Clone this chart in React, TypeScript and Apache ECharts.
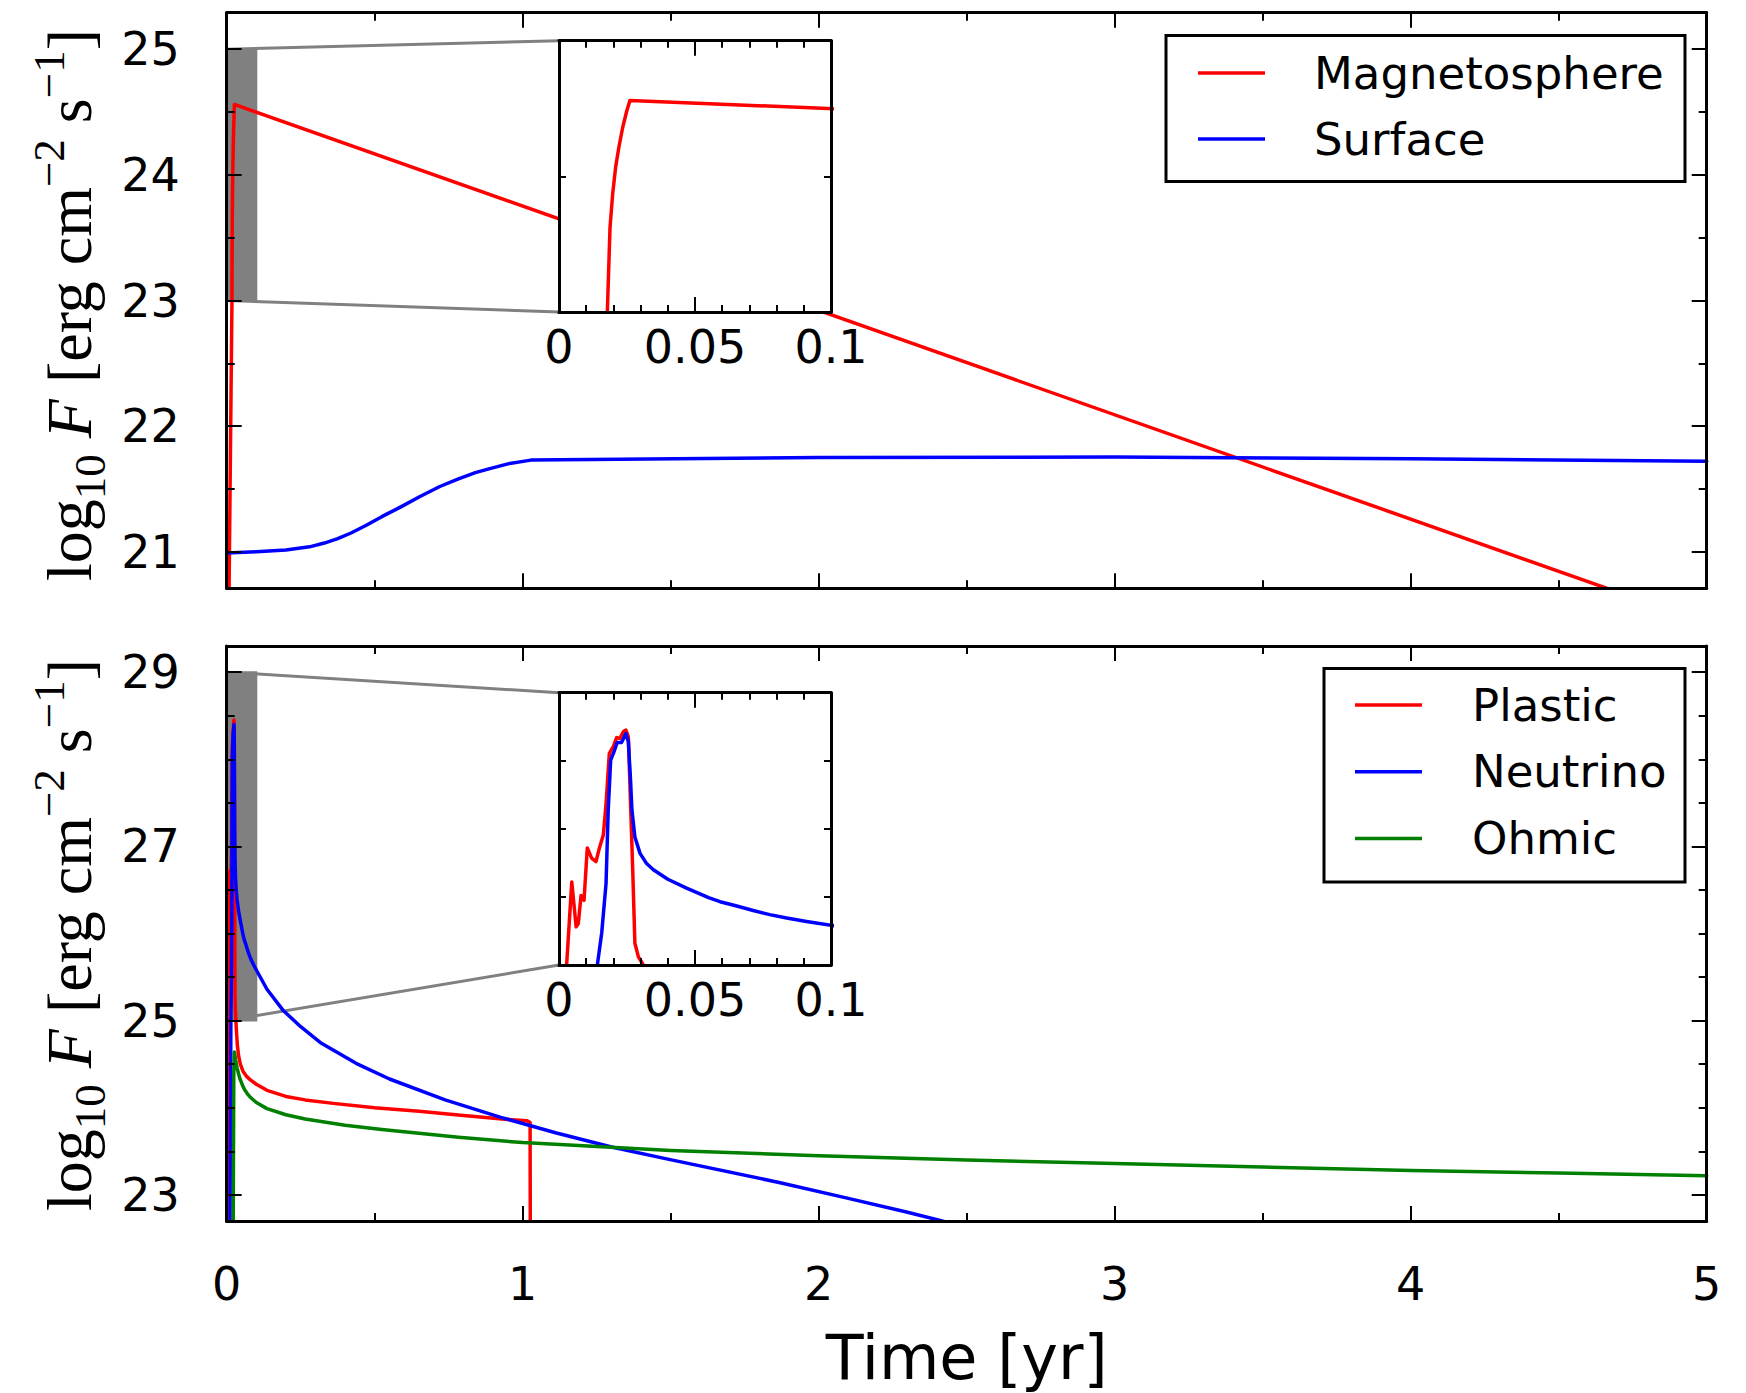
import React, { useEffect, useRef } from 'react';
import * as echarts from 'echarts';

// ---------- Data ----------
// Top panel: Magnetosphere (log10 F) vs time [yr]
const magTime = [0.005, 0.01777, 0.01875, 0.01973, 0.02083, 0.02206, 0.02341, 0.02488, 0.0261, 5.0];
const magVal = [20.0, 23.0, 23.62, 23.87, 24.07, 24.22, 24.36, 24.48, 24.56, 20.43];

// Top panel: Surface
const surfTime = [0, 0.1, 0.2, 0.28, 0.33, 0.375, 0.42, 0.47, 0.524, 0.59, 0.653, 0.72, 0.783, 0.84, 0.886, 0.95,
  1.028, 2.0, 3.0, 4.0, 5.0];
const surfVal = [20.99, 21.0, 21.015, 21.04, 21.07, 21.105, 21.15, 21.21, 21.28, 21.36, 21.44, 21.52, 21.58, 21.63,
  21.66, 21.7, 21.73, 21.75, 21.755, 21.74, 21.72];

// Bottom panel: Plastic
const plasticTime = [0.0, 0.0028, 0.0047, 0.0063, 0.0071, 0.0081, 0.0092, 0.0104, 0.012, 0.0136, 0.0148, 0.0163,
  0.0173, 0.0185, 0.02, 0.0212, 0.0224, 0.0237, 0.0246, 0.0255, 0.0261, 0.0271, 0.0279, 0.0292, 0.031, 0.033,
  0.036, 0.04, 0.046, 0.055, 0.067, 0.08, 0.1, 0.136, 0.2, 0.265, 0.36, 0.5, 0.65, 0.8, 0.93, 1.015, 1.025, 1.027];
const plasticVal = [20.0, 25.0, 26.22, 25.56, 25.61, 26.02, 25.95, 26.72, 26.57, 26.52, 26.71, 26.91,
  27.37, 28.11, 28.21, 28.34, 28.33, 28.43, 28.45, 28.35, 27.62, 26.4, 25.32, 25.12, 25.0, 24.88,
  24.72, 24.6, 24.5, 24.42, 24.36, 24.32, 24.27, 24.2, 24.13, 24.09, 24.05, 24.0, 23.96, 23.91, 23.87, 23.85,
  23.83, 20.0];

// Bottom panel: Neutrino
const neutrinoTime = [0.008, 0.0141, 0.0157, 0.0173, 0.0181, 0.019, 0.0202, 0.0214, 0.023, 0.0246, 0.0255,
  0.0263, 0.0268, 0.0279, 0.0298, 0.0322, 0.0347, 0.04, 0.0469, 0.055, 0.0592, 0.065, 0.0714, 0.0775, 0.0837,
  0.091, 0.102, 0.136, 0.19, 0.25, 0.32, 0.437, 0.55, 0.738, 0.926, 1.114, 1.3, 1.49, 1.87, 2.1, 2.3, 2.43, 2.6];
const neutrinoVal = [20.0, 25.0, 25.47, 26.2, 27.28, 28.01, 28.13, 28.27, 28.27, 28.4, 28.28,
  27.72, 27.28, 26.88, 26.64, 26.49, 26.4, 26.26, 26.13, 25.99, 25.93, 25.87, 25.8, 25.74, 25.69,
  25.64, 25.57, 25.36, 25.12, 24.93, 24.74, 24.51, 24.33, 24.09, 23.89, 23.71, 23.55, 23.41, 23.14, 22.96,
  22.8, 22.69, 22.55];

// Bottom panel: Ohmic
const ohmicTime = [0.02, 0.022, 0.024, 0.026, 0.03, 0.035, 0.04, 0.045, 0.052, 0.06, 0.07, 0.08, 0.1, 0.136, 0.2,
  0.265, 0.4, 0.524, 0.783, 1.0, 1.22, 1.5, 2.0, 2.5, 3.0, 3.5, 4.0, 4.5, 5.0];
const ohmicVal = [18.0, 22.7, 24.4, 24.64, 24.55, 24.46, 24.39, 24.33, 24.27, 24.21, 24.16, 24.12, 24.06, 23.99,
  23.92, 23.87, 23.8, 23.75, 23.66, 23.6, 23.56, 23.51, 23.45, 23.4, 23.36, 23.32, 23.28, 23.25, 23.22];

// Axis ranges and ticks
const timeRange = [0, 5];
const topYRange = [20.71, 25.29];
const bottomYRange = [22.7, 29.3];
const topYTicks = [21, 22, 23, 24, 25];
const topYMinor = [21.5, 22.5, 23.5, 24.5];
const bottomYTicks = [23, 25, 27, 29];
const bottomYMinor = [23.5, 24, 24.5, 25.5, 26, 26.5, 27.5, 28, 28.5];
const insetXRange = [0, 0.1];
const topInsetYRange = [23, 25];
const bottomInsetYRange = [25, 29];
// zoom windows [x0, x1, y0, y1]
const zoomTop = [0, 0.1, 23, 25];
const zoomBottom = [0, 0.1, 25, 29];

const topLegend = ['Magnetosphere', 'Surface'];
const bottomLegend = ['Plastic', 'Neutrino', 'Ohmic'];

// ---------- Layout ----------
const MAIN_L = 226.7;
const MAIN_W = 1480;
const TOP_T = 12.7;
const TOP_H = 575.6;
const BOT_T = 646;
const BOT_H = 575;
const INSET_L = 559;
const INSET_W = 272;
const TI_T = 40.7;
const TI_H = 271.3;
const BI_T = 692.7;
const BI_H = 272.3;

const RED = '#ff0000';
const BLUE = '#0000ff';
const GREEN = '#008000';
const GRAY = '#808080';
const SANS = 'DejaVu Sans';
const SERIF = 'Liberation Serif';
const TICK_FONT = 46;
const LEGEND_FONT = 45;
const LW = 3.5;

function pairs(t: number[], v: number[]) {
  return t.map((x, i) => [x, v[i]]);
}

function xAx(gridIndex: number, position: string, range: number[], interval: number, minorSplit: number,
  showLabel: boolean, majorLen: number, minorLen: number, z: number, labelMargin = 42) {
  return {
    type: 'value', gridIndex, position, min: range[0], max: range[1], interval, z,
    axisLine: { show: true, onZero: false, lineStyle: { color: '#000', width: 3 } },
    axisTick: { show: true, inside: true, length: majorLen, lineStyle: { color: '#000', width: 2 } },
    minorTick: { show: true, splitNumber: minorSplit, length: minorLen, lineStyle: { color: '#000', width: 2 } },
    splitLine: { show: false },
    minorSplitLine: { show: false },
    axisLabel: { show: showLabel, fontSize: TICK_FONT, fontFamily: SANS, color: '#000', margin: labelMargin },
  };
}

function yMajor(gridIndex: number, position: string, range: number[], ticks: number[], showLabel: boolean, z: number) {
  return {
    type: 'value', gridIndex, position, min: range[0], max: range[1], z,
    axisLine: { show: true, onZero: false, lineStyle: { color: '#000', width: 3 } },
    axisTick: { show: true, inside: true, length: 15, customValues: ticks, lineStyle: { color: '#000', width: 2 } },
    splitLine: { show: false },
    axisLabel: { show: showLabel, customValues: ticks, fontSize: TICK_FONT, fontFamily: SANS, color: '#000', margin: 47 },
  };
}

function yMinor(gridIndex: number, position: string, range: number[], ticks: number[], z: number) {
  return {
    type: 'value', gridIndex, position, min: range[0], max: range[1], z,
    axisLine: { show: false, onZero: false },
    axisTick: { show: true, inside: true, length: 8, customValues: ticks, lineStyle: { color: '#000', width: 2 } },
    splitLine: { show: false },
    axisLabel: { show: false },
  };
}

function yInset(gridIndex: number, position: string, range: number[], z: number) {
  return {
    type: 'value', gridIndex, position, min: range[0], max: range[1], interval: 1, z,
    axisLine: { show: true, onZero: false, lineStyle: { color: '#000', width: 3 } },
    axisTick: { show: true, inside: true, length: 7, lineStyle: { color: '#000', width: 2 } },
    splitLine: { show: false },
    axisLabel: { show: false },
  };
}

function lineSeries(name: string, data: number[][], color: string, xi: number, yi: number, z: number) {
  return {
    type: 'line', name, data, xAxisIndex: xi, yAxisIndex: yi, z,
    showSymbol: false, symbol: 'none', clip: true, smooth: false,
    lineStyle: { color, width: LW, join: 'round', cap: 'round' }, itemStyle: { color },
  };
}

function zoomSeries(win: number[], xi: number, yi: number, insetTop: number, insetBottom: number) {
  return {
    type: 'custom', xAxisIndex: xi, yAxisIndex: yi, z: 1, silent: true,
    data: [[win[0], win[2]]],
    renderItem: (_params: any, api: any) => {
      const p0 = api.coord([win[0], win[3]]);
      const p1 = api.coord([win[1], win[2]]);
      return {
        type: 'group',
        children: [
          { type: 'rect', shape: { x: p0[0], y: p0[1], width: p1[0] - p0[0], height: p1[1] - p0[1] },
            style: { fill: GRAY, stroke: GRAY, lineWidth: 2 } },
          { type: 'line', shape: { x1: p0[0], y1: p0[1], x2: INSET_L, y2: insetTop },
            style: { stroke: GRAY, lineWidth: 3 } },
          { type: 'line', shape: { x1: p0[0], y1: p1[1], x2: INSET_L, y2: insetBottom },
            style: { stroke: GRAY, lineWidth: 3 } },
        ],
      };
    },
  };
}

function legendGraphic(x: number, y: number, w: number, h: number, names: string[], colors: string[],
  firstY: number, step: number, lineX0: number, lineX1: number, textX: number) {
  const children: any[] = [
    { type: 'rect', shape: { x, y, width: w, height: h }, style: { fill: '#fff', stroke: '#000', lineWidth: 3 } },
  ];
  names.forEach((n, i) => {
    const yy = firstY + i * step;
    children.push({ type: 'line', shape: { x1: lineX0, y1: yy, x2: lineX1, y2: yy },
      style: { stroke: colors[i], lineWidth: LW } });
    children.push({ type: 'text', x: textX, y: yy,
      style: { text: n, fontSize: LEGEND_FONT, fontFamily: SANS, fill: '#000',
        align: 'left', verticalAlign: 'middle', textAlign: 'left', textVerticalAlign: 'middle' } });
  });
  return { type: 'group', z: 100, children };
}

const yLabelText = '{a|log}{sub|10}{a| }{i|F}{a| [erg cm}{sup|\u22122}{a| s}{sup|\u22121}{a|]}';
const yLabelRich = {
  a: { fontFamily: SERIF, fontSize: 64, lineHeight: 86, verticalAlign: 'middle', color: '#000' },
  i: { fontFamily: SERIF, fontSize: 64, lineHeight: 86, fontStyle: 'italic', verticalAlign: 'middle', color: '#000' },
  sub: { fontFamily: SERIF, fontSize: 45, lineHeight: 43, verticalAlign: 'bottom', color: '#000' },
  sup: { fontFamily: SERIF, fontSize: 45, lineHeight: 43, verticalAlign: 'top', color: '#000' },
};

function yLabel(cy: number) {
  return {
    type: 'text', x: 69, y: cy, rotation: Math.PI / 2, z: 100,
    style: { text: yLabelText, rich: yLabelRich, align: 'center', verticalAlign: 'middle',
      textAlign: 'center', textVerticalAlign: 'middle' },
  };
}

export default function App() {
  const ref = useRef<HTMLDivElement>(null);
  useEffect(() => {
    document.body.style.margin = '0';
    if (!ref.current) return;
    const chart = echarts.init(ref.current, null, { renderer: 'svg' });
    const option: any = {
      animation: false,
      backgroundColor: '#fff',
      grid: [
        { left: MAIN_L, top: TOP_T, width: MAIN_W, height: TOP_H, outerBoundsMode: 'none', z: 0 },
        { left: MAIN_L, top: BOT_T, width: MAIN_W, height: BOT_H, outerBoundsMode: 'none', z: 0 },
        { left: INSET_L, top: TI_T, width: INSET_W, height: TI_H, outerBoundsMode: 'none', show: true,
          backgroundColor: '#fff', borderWidth: 0, z: 10 },
        { left: INSET_L, top: BI_T, width: INSET_W, height: BI_H, outerBoundsMode: 'none', show: true,
          backgroundColor: '#fff', borderWidth: 0, z: 10 },
      ],
      xAxis: [
        xAx(0, 'bottom', timeRange, 1, 2, false, 15, 8, 5),
        xAx(0, 'top', timeRange, 1, 2, false, 15, 8, 5),
        xAx(1, 'bottom', timeRange, 1, 2, true, 15, 8, 5, 40),
        xAx(1, 'top', timeRange, 1, 2, false, 15, 8, 5),
        xAx(2, 'bottom', insetXRange, 0.05, 5, true, 15, 7, 12, 12),
        xAx(2, 'top', insetXRange, 0.05, 5, false, 15, 7, 12),
        xAx(3, 'bottom', insetXRange, 0.05, 5, true, 15, 7, 12, 12),
        xAx(3, 'top', insetXRange, 0.05, 5, false, 15, 7, 12),
      ],
      yAxis: [
        yMajor(0, 'left', topYRange, topYTicks, true, 5),
        yMajor(0, 'right', topYRange, topYTicks, false, 5),
        yMinor(0, 'left', topYRange, topYMinor, 5),
        yMinor(0, 'right', topYRange, topYMinor, 5),
        yMajor(1, 'left', bottomYRange, bottomYTicks, true, 5),
        yMajor(1, 'right', bottomYRange, bottomYTicks, false, 5),
        yMinor(1, 'left', bottomYRange, bottomYMinor, 5),
        yMinor(1, 'right', bottomYRange, bottomYMinor, 5),
        yInset(2, 'left', topInsetYRange, 12),
        yInset(2, 'right', topInsetYRange, 12),
        yInset(3, 'left', bottomInsetYRange, 12),
        yInset(3, 'right', bottomInsetYRange, 12),
      ],
      series: [
        zoomSeries(zoomTop, 0, 0, TI_T, TI_T + TI_H),
        lineSeries(topLegend[0], pairs(magTime, magVal), RED, 0, 0, 2),
        lineSeries(topLegend[1], pairs(surfTime, surfVal), BLUE, 0, 0, 2),
        lineSeries(topLegend[0] + ' inset', pairs(magTime, magVal), RED, 4, 8, 11),
        zoomSeries(zoomBottom, 2, 4, BI_T, BI_T + BI_H),
        lineSeries(bottomLegend[0], pairs(plasticTime, plasticVal), RED, 2, 4, 2),
        lineSeries(bottomLegend[1], pairs(neutrinoTime, neutrinoVal), BLUE, 2, 4, 2),
        lineSeries(bottomLegend[2], pairs(ohmicTime, ohmicVal), GREEN, 2, 4, 2),
        lineSeries(bottomLegend[0] + ' inset', pairs(plasticTime, plasticVal), RED, 6, 10, 11),
        lineSeries(bottomLegend[1] + ' inset', pairs(neutrinoTime, neutrinoVal), BLUE, 6, 10, 11),
        lineSeries(bottomLegend[2] + ' inset', pairs(ohmicTime, ohmicVal), GREEN, 6, 10, 11),
      ],
      graphic: [
        legendGraphic(1166, 35.5, 519, 146, topLegend, [RED, BLUE], 73, 66, 1198, 1265, 1314),
        legendGraphic(1324, 668.5, 361, 213.5, bottomLegend, [RED, BLUE, GREEN], 705, 66.7, 1355, 1422, 1472),
        yLabel(305),
        yLabel(935),
        { type: 'text', x: MAIN_L + MAIN_W / 2, y: 1357, z: 100,
          style: { text: 'Time [yr]', fontSize: 62, fontFamily: SANS, fill: '#000',
            align: 'center', verticalAlign: 'middle', textAlign: 'center', textVerticalAlign: 'middle' } },
      ],
    };
    chart.setOption(option);
    return () => chart.dispose();
  }, []);
  return <div ref={ref} style={{ width: 1746, height: 1393 }} />;
}
